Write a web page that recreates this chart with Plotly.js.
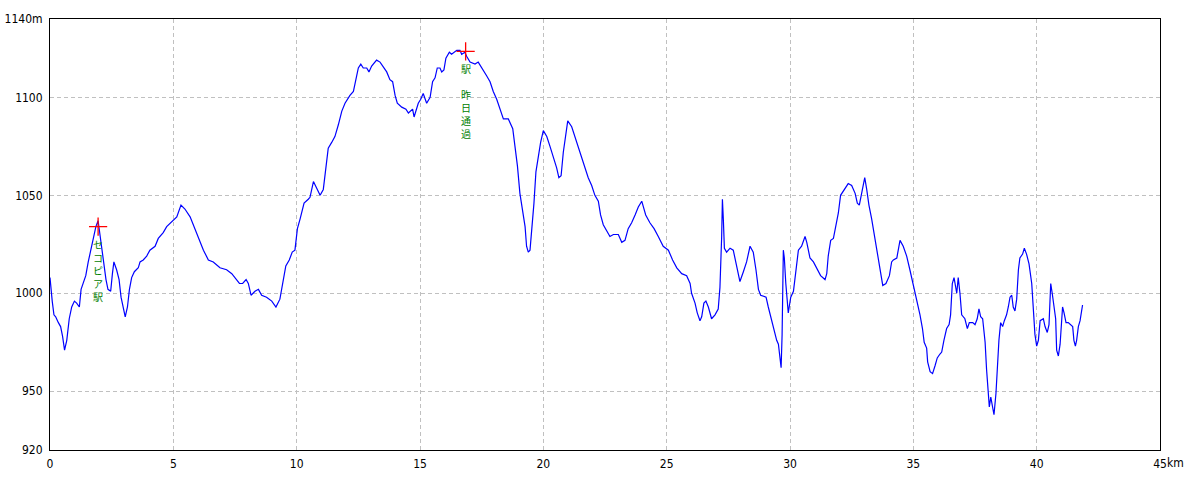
<!DOCTYPE html>
<html>
<head>
<meta charset="utf-8">
<script src="https://cdn.plot.ly/plotly-3.0.1.min.js"></script>
<style>html,body{margin:0;padding:0;background:#fff;}#chart{width:1200px;height:480px;}</style>
</head>
<body>
<div id="chart"></div>
<script>
// Elevation profile: distance (km) and elevation (m)
const distKm = [0.00,0.05,0.09,0.16,0.23,0.34,0.43,0.51,0.59,0.68,0.78,0.88,0.99,1.08,1.19,1.26,1.35,1.45,1.55,1.65,1.76,1.86,1.95,2.00,2.09,2.19,2.27,2.35,2.46,2.53,2.59,2.70,2.80,2.88,2.97,3.05,3.14,3.22,3.31,3.42,3.58,3.65,3.78,3.92,4.05,4.26,4.39,4.59,4.73,5.00,5.14,5.31,5.47,5.68,5.84,6.01,6.22,6.42,6.62,6.89,7.16,7.37,7.57,7.68,7.81,7.95,8.04,8.15,8.31,8.45,8.58,8.78,8.99,9.16,9.32,9.46,9.56,9.70,9.82,9.93,10.03,10.14,10.30,10.47,10.54,10.68,10.95,11.08,11.15,11.28,11.42,11.55,11.69,11.83,11.96,12.16,12.30,12.41,12.50,12.60,12.70,12.84,12.93,13.04,13.24,13.38,13.54,13.65,13.78,13.89,13.99,14.08,14.26,14.43,14.53,14.62,14.70,14.76,14.84,14.93,15.03,15.13,15.27,15.41,15.51,15.61,15.70,15.81,15.88,15.97,16.05,16.19,16.28,16.49,16.62,16.69,16.82,16.89,17.03,17.23,17.36,17.57,17.70,17.84,17.97,18.11,18.24,18.38,18.58,18.76,18.85,18.95,19.05,19.19,19.26,19.32,19.39,19.46,19.53,19.62,19.70,19.80,19.89,20.00,20.14,20.27,20.40,20.54,20.63,20.72,20.81,20.92,20.99,21.15,21.28,21.42,21.55,21.69,21.82,21.96,22.09,22.23,22.32,22.43,22.57,22.70,22.84,23.04,23.18,23.31,23.44,23.58,23.72,23.85,23.99,24.15,24.32,24.49,24.66,24.86,25.07,25.24,25.41,25.61,25.81,25.95,26.01,26.15,26.24,26.35,26.42,26.51,26.59,26.69,26.82,26.96,27.09,27.16,27.23,27.26,27.30,27.34,27.43,27.57,27.70,27.84,27.97,28.11,28.24,28.38,28.51,28.62,28.72,28.81,29.03,29.12,29.23,29.32,29.46,29.53,29.59,29.64,29.68,29.73,29.77,29.83,29.93,30.03,30.14,30.23,30.34,30.47,30.61,30.68,30.81,30.95,31.08,31.24,31.42,31.49,31.55,31.65,31.76,31.86,31.96,32.05,32.16,32.24,32.36,32.50,32.64,32.73,32.81,32.92,33.03,33.11,33.20,33.31,33.40,33.51,33.61,33.69,33.76,33.89,34.03,34.12,34.19,34.33,34.39,34.46,34.59,34.73,34.86,35.00,35.14,35.27,35.37,35.44,35.54,35.58,35.68,35.78,35.88,35.97,36.08,36.15,36.24,36.35,36.45,36.51,36.58,36.65,36.76,36.82,36.89,36.96,37.09,37.19,37.27,37.41,37.50,37.59,37.66,37.73,37.81,37.91,37.97,38.04,38.08,38.14,38.20,38.27,38.35,38.40,38.47,38.54,38.62,38.69,38.78,38.85,38.92,38.99,39.05,39.12,39.19,39.26,39.32,39.43,39.50,39.59,39.69,39.80,39.86,39.93,40.00,40.07,40.14,40.27,40.34,40.43,40.50,40.57,40.63,40.70,40.77,40.81,40.88,40.95,41.01,41.05,41.11,41.19,41.28,41.38,41.46,41.51,41.57,41.62,41.69,41.76,41.82,41.86];
const elevM = [1008,1000,996,989,988,985,983,978,971,976,987,993,996,995,993,1002,1005,1009,1016,1022,1028,1034,1037,1032,1025,1016,1007,1002,1001,1010,1016,1012,1007,998,992,988,993,1002,1008,1011,1013,1016,1017,1019,1022,1024,1028,1031,1034,1037,1039,1045,1043,1039,1034,1028,1022,1017,1016,1013,1012,1010,1007,1005,1005,1007,1005,999,1001,1002,999,998,996,993,997,1007,1014,1017,1021,1022,1033,1038,1046,1048,1049,1057,1050,1053,1061,1074,1077,1080,1086,1093,1097,1101,1103,1109,1115,1117,1115,1115,1113,1116,1119,1118,1115,1113,1109,1108,1101,1097,1095,1094,1092,1093,1094,1090,1093,1097,1099,1102,1097,1100,1108,1110,1115,1115,1113,1114,1120,1123,1122,1124,1124,1122,1123,1121,1118,1117,1118,1114,1111,1108,1103,1099,1094,1089,1089,1084,1075,1065,1051,1040,1034,1024,1021,1022,1031,1046,1062,1070,1077,1083,1080,1075,1070,1064,1059,1060,1072,1082,1088,1085,1080,1075,1070,1064,1059,1055,1050,1047,1040,1035,1032,1029,1030,1030,1026,1027,1033,1036,1040,1044,1047,1040,1036,1033,1029,1024,1022,1017,1013,1010,1009,1005,1000,995,990,986,988,995,996,993,987,989,992,1003,1029,1048,1037,1023,1021,1023,1022,1014,1006,1011,1016,1024,1021,1012,1002,999,998,993,987,982,976,974,968,962,979,1022,1018,1005,990,998,1001,1011,1022,1024,1029,1026,1018,1016,1013,1009,1007,1010,1019,1027,1028,1035,1041,1050,1052,1054,1056,1055,1051,1046,1045,1052,1059,1053,1045,1038,1031,1024,1016,1008,1004,1005,1009,1016,1017,1018,1022,1027,1024,1019,1012,1004,997,989,982,975,972,965,960,959,963,967,969,970,976,982,984,989,1005,1008,1000,1008,1000,989,987,982,985,985,984,987,992,988,987,975,961,951,942,947,942,938,949,963,976,985,983,986,989,993,998,999,993,991,997,1012,1018,1020,1023,1020,1015,1005,990,979,973,976,986,987,983,980,984,1005,1000,993,987,971,968,974,986,993,990,985,985,984,983,976,973,976,983,986,990,994];

// Stations (red crosses) and their vertical labels (one line per character; "" = blank line)
const stationKm = [1.95, 16.85];
const stationElev = [1034, 1123.5];
const stationLabels = [["セ","コ","ピ","ア","駅"], ["駅","","昨","日","通","過"]];

// Axis ticks
const xTickVals = [0,5,10,15,20,25,30,35,40,45];
const xTickText = ["0","5","10","15","20","25","30","35","40","45"];
const yTickVals = [920,950,1000,1050,1100,1140];
const yTickText = ["920","950","1000","1050","1100","1140m"];

const tickFont = {family: "Liberation Sans Narrow, DejaVu Sans Condensed, sans-serif", size: 12, color: "#000"};

const traces = [
  {x: distKm, y: elevM, type: "scatter", mode: "lines",
   line: {color: "#0000ff", width: 1.2}, hoverinfo: "skip"},
  {x: stationKm, y: stationElev, type: "scatter", mode: "markers",
   marker: {symbol: "cross-thin", size: 13, line: {color: "#ff0000", width: 1.3}}, hoverinfo: "skip"}
];

const annotations = stationLabels.map((chars, si) => ({
  x: stationKm[si], y: stationElev[si], xref: "x", yref: "y",
  text: chars.map(c => c === "" ? "&#160;" : c).join("<br>"),
  showarrow: false, xanchor: "center", yanchor: "top", align: "center",
  yshift: -9, borderpad: 0,
  font: {family: "Noto Sans CJK JP, sans-serif", size: 10, color: "#008000"}
}));
annotations.push({
  x: 45, y: 0, xref: "x", yref: "paper", text: "km", showarrow: false,
  xanchor: "left", yanchor: "top", xshift: 5, yshift: -4, font: tickFont
});

const layout = {
  width: 1200, height: 480,
  margin: {l: 50, r: 40, t: 19, b: 30, pad: 0},
  paper_bgcolor: "#ffffff", plot_bgcolor: "#ffffff",
  showlegend: false,
  xaxis: {
    range: [0, 45], tickmode: "array", tickvals: xTickVals, ticktext: xTickText,
    showgrid: true, gridcolor: "#c0c0c0", griddash: "4px,3px", gridwidth: 1,
    zeroline: false, showline: true, linecolor: "#000", linewidth: 1, mirror: true,
    ticks: "", ticklabelstandoff: 3, tickfont: tickFont, fixedrange: true
  },
  yaxis: {
    range: [920, 1140], tickmode: "array", tickvals: yTickVals, ticktext: yTickText,
    showgrid: true, gridcolor: "#c0c0c0", griddash: "4px,3px", gridwidth: 1,
    zeroline: false, showline: true, linecolor: "#000", linewidth: 1, mirror: true,
    ticks: "", ticklabelstandoff: 4, tickfont: tickFont, fixedrange: true
  },
  annotations: annotations
};

Plotly.newPlot("chart", traces, layout, {displayModeBar: false, staticPlot: true});
</script>
</body>
</html>
